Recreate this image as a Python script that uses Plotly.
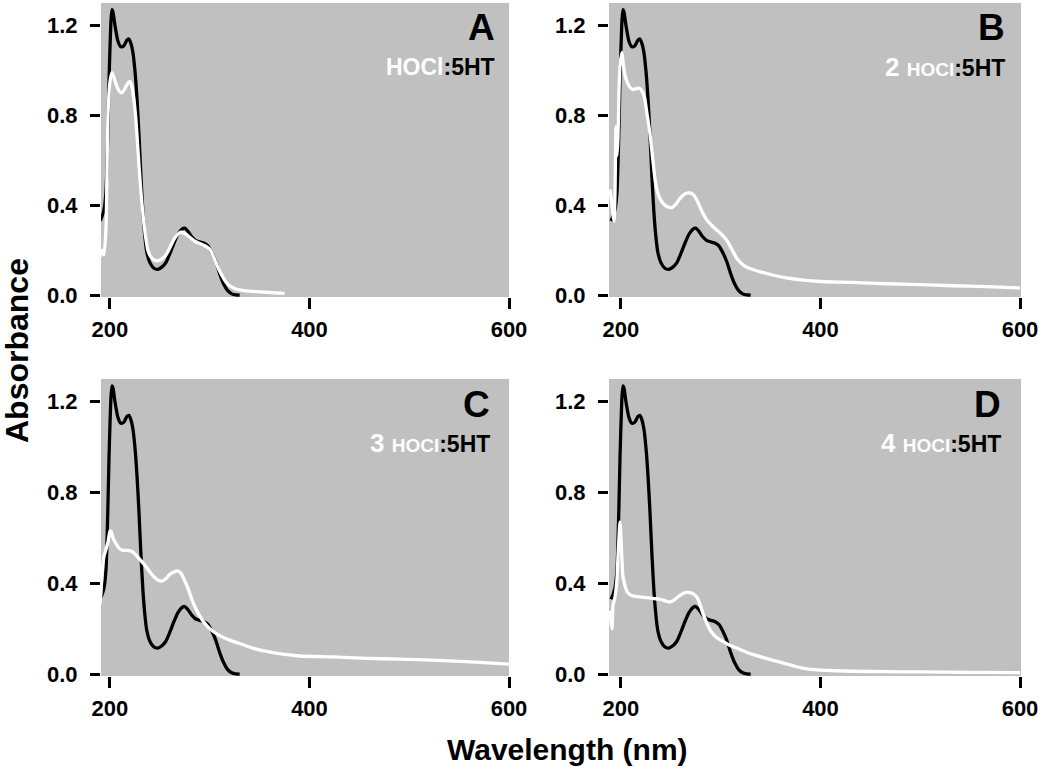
import plotly.graph_objects as go

# ---- data ----
wl_black = [190, 192, 194, 196, 198, 199, 200, 201, 202, 203, 205, 208, 211, 214, 217, 219, 221, 223,
            225, 227, 229, 231, 233, 235, 237, 240, 244, 248, 252, 256, 260, 264, 268, 272, 275, 278,
            282, 286, 290, 294, 298, 302, 306, 310, 314, 318, 322, 326, 330]
abs_black = [0.33, 0.35, 0.38, 0.46, 0.75, 0.95, 1.10, 1.22, 1.27, 1.26, 1.20, 1.13, 1.105, 1.11, 1.135,
             1.14, 1.12, 1.08, 1.00, 0.88, 0.72, 0.53, 0.37, 0.26, 0.19, 0.145, 0.12, 0.115, 0.125, 0.145,
             0.185, 0.23, 0.27, 0.293, 0.298, 0.285, 0.26, 0.243, 0.237, 0.232, 0.22, 0.19, 0.15, 0.095,
             0.05, 0.02, 0.006, 0.001, 0.0]

wl_A = [190, 192, 194, 196, 197, 198, 200, 202, 204, 206, 209, 212, 215, 218, 220, 222, 224, 226, 228,
        230, 232, 234, 236, 238, 241, 245, 249, 253, 257, 261, 265, 269, 272, 276, 280, 285, 290, 295,
        300, 304, 308, 312, 316, 320, 325, 330, 340, 350, 360, 375]
abs_A = [0.17, 0.20, 0.18, 0.30, 0.55, 0.80, 0.95, 0.99, 0.97, 0.94, 0.91, 0.90, 0.92, 0.945, 0.95, 0.93,
         0.87, 0.78, 0.65, 0.52, 0.41, 0.32, 0.25, 0.20, 0.17, 0.155, 0.155, 0.165, 0.185, 0.22, 0.255,
         0.275, 0.28, 0.272, 0.258, 0.24, 0.23, 0.22, 0.205, 0.17, 0.125, 0.09, 0.06, 0.042, 0.03, 0.024,
         0.018, 0.015, 0.012, 0.008]

wl_B = [189, 191, 193, 194, 195, 196, 197, 198, 199, 201, 202, 204, 206, 209, 212, 216, 219, 222, 224,
        226, 229, 232, 234, 236, 239, 242, 246, 251, 255, 259, 264, 269, 273, 277, 281, 286, 291, 296,
        301, 306, 311, 316, 321, 326, 333, 340, 350, 366, 383, 399, 432, 466, 499, 532, 566, 600]
abs_B = [0.47, 0.40, 0.33, 0.45, 0.75, 0.62, 0.70, 0.90, 1.02, 1.08, 1.04, 0.98, 0.95, 0.925, 0.915,
         0.92, 0.92, 0.90, 0.87, 0.81, 0.72, 0.60, 0.52, 0.47, 0.43, 0.41, 0.395, 0.39, 0.405, 0.43,
         0.45, 0.455, 0.445, 0.415, 0.375, 0.335, 0.31, 0.29, 0.27, 0.245, 0.205, 0.165, 0.14, 0.125,
         0.113, 0.104, 0.092, 0.077, 0.067, 0.061, 0.057, 0.051, 0.047, 0.042, 0.038, 0.032]

wl_C = [190, 191, 192, 194, 196, 198, 200, 201, 203, 206, 209, 213, 218, 222, 226, 230, 235, 240, 244,
        248, 252, 256, 260, 264, 268, 271, 274, 278, 282, 287, 293, 300, 310, 320, 330, 343, 357, 373,
        390, 423, 457, 490, 523, 557, 600]
abs_C = [0.31, 0.36, 0.44, 0.52, 0.55, 0.58, 0.63, 0.63, 0.60, 0.575, 0.555, 0.545, 0.545, 0.54, 0.525,
         0.505, 0.48, 0.45, 0.43, 0.415, 0.41, 0.42, 0.44, 0.45, 0.455, 0.445, 0.42, 0.38, 0.33, 0.28,
         0.235, 0.20, 0.17, 0.15, 0.135, 0.115, 0.10, 0.088, 0.08, 0.076, 0.07, 0.066, 0.062, 0.055, 0.044]

wl_D = [189, 190, 191, 192, 194, 196, 197, 198, 199, 200, 201, 202, 204, 206, 209, 212, 219, 226, 233,
        239, 245, 249, 253, 257, 261, 265, 268, 272, 276, 279, 282, 286, 290, 295, 300, 308, 316, 324,
        332, 341, 349, 358, 366, 374, 382, 390, 399, 432, 466, 499, 550, 600]
abs_D = [0.28, 0.23, 0.20, 0.30, 0.34, 0.42, 0.52, 0.60, 0.67, 0.60, 0.50, 0.43, 0.39, 0.365, 0.35,
         0.345, 0.34, 0.337, 0.333, 0.33, 0.322, 0.318, 0.325, 0.34, 0.352, 0.36, 0.36, 0.355, 0.34,
         0.31, 0.27, 0.225, 0.19, 0.165, 0.15, 0.13, 0.115, 0.10, 0.087, 0.075, 0.065, 0.055, 0.045,
         0.035, 0.027, 0.021, 0.018, 0.013, 0.011, 0.01, 0.008, 0.007]

panel_letters = ["A", "B", "C", "D"]
ratio_prefix = ["", "2", "3", "4"]
white_series = [(wl_A, abs_A), (wl_B, abs_B), (wl_C, abs_C), (wl_D, abs_D)]
x_ticks = [200, 400, 600]
y_ticks = [0.0, 0.4, 0.8, 1.2]
y_ticktext = ["0.0", "0.4", "0.8", "1.2"]

# ---- layout geometry ----
W, H = 1050, 772
FONT = "Arial, 'Liberation Sans', sans-serif"
x_domains = [[101 / W, 509 / W], [609 / W, 1021 / W], [101 / W, 509 / W], [609 / W, 1021 / W]]
y_domains = [[475 / H, 769 / H], [475 / H, 769 / H], [96 / H, 393 / H], [96 / H, 393 / H]]
x_ranges = [[191, 600], [188, 601], [191, 600], [188, 601]]
label_x = [0.971, 0.966, 0.958, 0.956]

fig = go.Figure()
layout = dict(
    width=W, height=H,
    margin=dict(l=0, r=0, t=0, b=0, autoexpand=False),
    paper_bgcolor="white",
    plot_bgcolor="#c0c0c0",
    showlegend=False,
    font=dict(family=FONT, color="black"),
)

annotations = []
for i in range(4):
    n = "" if i == 0 else str(i + 1)
    xa, ya = "x" + n, "y" + n
    fig.add_trace(go.Scatter(x=wl_black, y=abs_black, xaxis=xa, yaxis=ya, mode="lines",
                             line=dict(color="black", width=3.3, shape="spline", smoothing=0.6),
                             hoverinfo="skip"))
    wx, wy = white_series[i]
    fig.add_trace(go.Scatter(x=wx, y=wy, xaxis=xa, yaxis=ya, mode="lines",
                             line=dict(color="white", width=3.3, shape="spline", smoothing=0.6),
                             hoverinfo="skip"))
    layout["xaxis" + n] = dict(
        domain=x_domains[i], range=x_ranges[i], anchor=ya, automargin=False,
        tickmode="array", tickvals=x_ticks, ticks="outside", ticklen=11, tickwidth=3,
        tickcolor="black", showgrid=False, zeroline=False, showline=False,
        tickfont=dict(family=FONT, size=22, color="black", weight="bold"),
        ticklabelstandoff=2,
    )
    layout["yaxis" + n] = dict(
        domain=y_domains[i], range=[-0.008, 1.3], anchor=xa, automargin=False,
        tickmode="array", tickvals=y_ticks, ticktext=y_ticktext, ticks="outside", ticklen=10,
        tickwidth=3, tickcolor="black", showgrid=False, zeroline=False, showline=False,
        tickfont=dict(family=FONT, size=22, color="black", weight="bold"),
        ticklabelstandoff=8,
    )
    annotations.append(dict(
        xref=xa + " domain", yref=ya + " domain", x=label_x[i], y=1 - 25 / 295,
        xanchor="right", yanchor="middle", showarrow=False,
        text="<b>" + panel_letters[i] + "</b>",
        font=dict(family=FONT, size=37, color="black"),
    ))
    if ratio_prefix[i]:
        txt = ("<b><span style='color:white;font-size:26px'>" + ratio_prefix[i] + " </span>"
               "<span style='color:white;font-size:19px'>HOCl</span>:5HT</b>")
    else:
        txt = "<b><span style='color:white'>HOCl</span>:5HT</b>"
    annotations.append(dict(
        xref=xa + " domain", yref=ya + " domain", x=label_x[i], y=1 - 64 / 295,
        xanchor="right", yanchor="middle", showarrow=False, text=txt,
        font=dict(family=FONT, size=23, color="black"),
    ))

annotations.append(dict(
    xref="paper", yref="paper", x=17 / W, y=1 - 351 / H, xanchor="center", yanchor="middle",
    textangle=-90, showarrow=False, text="<b>Absorbance</b>",
    font=dict(family=FONT, size=32, color="black"),
))
annotations.append(dict(
    xref="paper", yref="paper", x=567 / W, y=1 - 749 / H, xanchor="center", yanchor="middle",
    showarrow=False, text="<b>Wavelength (nm)</b>",
    font=dict(family=FONT, size=30, color="black"),
))
layout["annotations"] = annotations
fig.update_layout(**layout)
fig.write_html("out.html",
               config={"displayModeBar": False, "staticPlot": True},
               post_script="document.body.style.margin='0';document.body.style.overflow='hidden';")
